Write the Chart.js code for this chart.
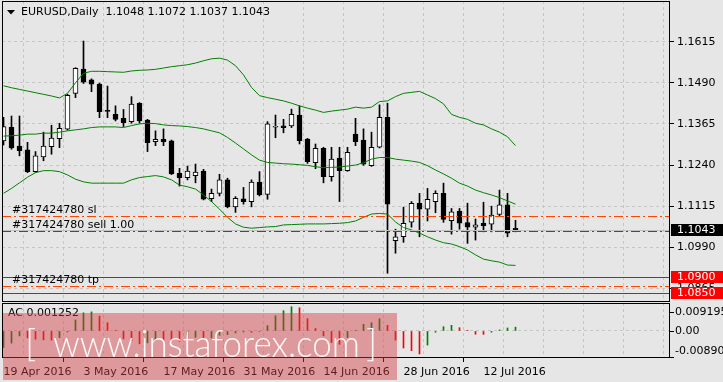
<!DOCTYPE html>
<html>
<head>
<meta charset="utf-8">
<script src="https://cdn.jsdelivr.net/npm/chart.js@4.4.0/dist/chart.umd.min.js"></script>
<style>
  html, body { margin: 0; padding: 0; background: #e6e6e6; }
  #wrap { position: relative; width: 723px; height: 382px; overflow: hidden; background: #e6e6e6; }
  #priceChart { position: absolute; left: 0; top: 0; }
  #acChart { position: absolute; left: 0; top: 302px; }
  #watermark { position: absolute; left: 3px; top: 313px; width: 394px; height: 67px; background: rgba(210, 60, 65, 0.45); pointer-events: none; }
  #watermark span { position: absolute; color: rgba(255, 255, 255, 0.92); font-family: Lato, 'Open Sans', sans-serif; font-weight: 300; font-size: 38px; line-height: 38px; white-space: nowrap; transform-origin: left top; }
</style>
</head>
<body>
<div id="wrap">
  <canvas id="priceChart" width="723" height="302"></canvas>
  <canvas id="acChart" width="723" height="80"></canvas>
  <div id="watermark">
    <span style="left:22px;top:9px">[</span>
    <span id="wmText" style="left:50px;top:10px">www.instaforex.com</span>
    <span style="left:363px;top:9px">]</span>
  </div>
</div>
<script>
// Données (EURUSD, Daily)
const symbol = 'EURUSD,Daily';

const dates = [
  '19 Apr 2016', '20 Apr 2016', '21 Apr 2016', '22 Apr 2016', '25 Apr 2016', '26 Apr 2016', '27 Apr 2016', '28 Apr 2016', '29 Apr 2016',
  '2 May 2016', '3 May 2016', '4 May 2016', '5 May 2016', '6 May 2016', '9 May 2016', '10 May 2016', '11 May 2016', '12 May 2016',
  '13 May 2016', '16 May 2016', '17 May 2016', '18 May 2016', '19 May 2016', '20 May 2016', '23 May 2016', '24 May 2016', '25 May 2016',
  '26 May 2016', '27 May 2016', '30 May 2016', '31 May 2016',
  '1 Jun 2016', '2 Jun 2016', '3 Jun 2016', '6 Jun 2016', '7 Jun 2016', '8 Jun 2016', '9 Jun 2016', '10 Jun 2016', '13 Jun 2016',
  '14 Jun 2016', '15 Jun 2016', '16 Jun 2016', '17 Jun 2016', '20 Jun 2016', '21 Jun 2016', '22 Jun 2016', '23 Jun 2016', '24 Jun 2016',
  '27 Jun 2016', '28 Jun 2016', '29 Jun 2016', '30 Jun 2016',
  '1 Jul 2016', '4 Jul 2016', '5 Jul 2016', '6 Jul 2016', '7 Jul 2016', '8 Jul 2016', '11 Jul 2016', '12 Jul 2016', '13 Jul 2016',
  '14 Jul 2016', '15 Jul 2016', '18 Jul 2016'
];

const opens = [
  1.1313, 1.1355, 1.1298, 1.1286, 1.1220, 1.1265, 1.1296, 1.1320, 1.1349, 1.1458,
  1.1532, 1.1499, 1.1486, 1.1404, 1.1394, 1.1382, 1.1372, 1.1428, 1.1377, 1.1311,
  1.1318, 1.1314, 1.1215, 1.1202, 1.1208, 1.1222, 1.1138, 1.1154, 1.1195, 1.1113,
  1.1137, 1.1129, 1.1188, 1.1151, 1.1355, 1.1359, 1.1359, 1.1392, 1.1319, 1.1247,
  1.1291, 1.1205, 1.1261, 1.1223, 1.1334, 1.1316, 1.1238, 1.1294, 1.1385, 1.1010,
  1.1022, 1.1066, 1.1124, 1.1106, 1.1129, 1.1154, 1.1071, 1.1100, 1.1065, 1.1051,
  1.1063, 1.1060, 1.1090, 1.1119, 1.1048
];
const highs = [
  1.1385, 1.1389, 1.1389, 1.1309, 1.1281, 1.1340, 1.1361, 1.1367, 1.1455, 1.1536,
  1.1617, 1.1502, 1.1489, 1.1480, 1.1420, 1.1409, 1.1448, 1.1430, 1.1379, 1.1344,
  1.1350, 1.1316, 1.1230, 1.1237, 1.1243, 1.1227, 1.1167, 1.1212, 1.1200, 1.1144,
  1.1172, 1.1195, 1.1220, 1.1372, 1.1392, 1.1379, 1.1410, 1.1420, 1.1321, 1.1304,
  1.1294, 1.1294, 1.1294, 1.1294, 1.1382, 1.1350, 1.1340, 1.1423, 1.1428, 1.1045,
  1.1112, 1.1129, 1.1154, 1.1169, 1.1162, 1.1185, 1.1108, 1.1108, 1.1124, 1.1076,
  1.1127, 1.1115, 1.1164, 1.1154, 1.1072
];
const lows = [
  1.1301, 1.1288, 1.1268, 1.1217, 1.1218, 1.1253, 1.1273, 1.1293, 1.1346, 1.1445,
  1.1488, 1.1463, 1.1384, 1.1384, 1.1374, 1.1357, 1.1367, 1.1367, 1.1281, 1.1299,
  1.1299, 1.1211, 1.1176, 1.1195, 1.1186, 1.1134, 1.1129, 1.1146, 1.1110, 1.1096,
  1.1121, 1.1113, 1.1146, 1.1136, 1.1323, 1.1338, 1.1354, 1.1304, 1.1245, 1.1229,
  1.1186, 1.1191, 1.1129, 1.1221, 1.1299, 1.1239, 1.1236, 1.1292, 1.0911, 1.0972,
  1.1005, 1.1051, 1.1022, 1.1070, 1.1095, 1.1066, 1.1030, 1.1045, 1.1002, 1.1012,
  1.1037, 1.1037, 1.1083, 1.1022, 1.1037
];
const closes = [
  1.1357, 1.1292, 1.1284, 1.1220, 1.1268, 1.1298, 1.1322, 1.1352, 1.1452, 1.1534,
  1.1492, 1.1486, 1.1402, 1.1403, 1.1379, 1.1369, 1.1425, 1.1374, 1.1308, 1.1318,
  1.1311, 1.1213, 1.1202, 1.1222, 1.1219, 1.1136, 1.1154, 1.1195, 1.1113, 1.1139,
  1.1129, 1.1188, 1.1149, 1.1365, 1.1356, 1.1354, 1.1394, 1.1314, 1.1250, 1.1291,
  1.1205, 1.1258, 1.1223, 1.1279, 1.1311, 1.1243, 1.1294, 1.1385, 1.1121, 1.1022,
  1.1063, 1.1124, 1.1106, 1.1136, 1.1154, 1.1075, 1.1098, 1.1063, 1.1051, 1.1058,
  1.1056, 1.1088, 1.1119, 1.1033, 1.1043
];

// Bandes de Bollinger
const bbUpper = [
  1.1481, 1.1475, 1.1470, 1.1465, 1.1460, 1.1455, 1.1450, 1.1444, 1.1458, 1.1490,
  1.1519, 1.1525, 1.1525, 1.1524, 1.1523, 1.1522, 1.1526, 1.1528, 1.1529, 1.1531,
  1.1535, 1.1539, 1.1542, 1.1545, 1.1550, 1.1557, 1.1563, 1.1565, 1.1559, 1.1542,
  1.1514, 1.1476, 1.1451, 1.1445, 1.1440, 1.1435, 1.1428, 1.1420, 1.1413, 1.1407,
  1.1400, 1.1404, 1.1407, 1.1410, 1.1416, 1.1413, 1.1416, 1.1433, 1.1435, 1.1448,
  1.1458, 1.1461, 1.1464, 1.1453, 1.1442, 1.1426, 1.1394, 1.1385, 1.1379, 1.1367,
  1.1362, 1.1350, 1.1340, 1.1326, 1.1299
];
const bbMiddle = [
  1.1328, 1.1329, 1.1331, 1.1334, 1.1334, 1.1337, 1.1337, 1.1340, 1.1344, 1.1347,
  1.1350, 1.1354, 1.1356, 1.1356, 1.1356, 1.1354, 1.1360, 1.1365, 1.1367, 1.1366,
  1.1362, 1.1360, 1.1359, 1.1357, 1.1354, 1.1350, 1.1344, 1.1338, 1.1324, 1.1307,
  1.1289, 1.1271, 1.1255, 1.1248, 1.1246, 1.1244, 1.1243, 1.1241, 1.1239, 1.1235,
  1.1232, 1.1233, 1.1234, 1.1237, 1.1240, 1.1247, 1.1258, 1.1263, 1.1263, 1.1258,
  1.1255, 1.1252, 1.1248, 1.1238, 1.1225, 1.1213, 1.1200, 1.1185, 1.1176, 1.1164,
  1.1156, 1.1149, 1.1141, 1.1131, 1.1121
];
const bbLower = [
  1.1154, 1.1169, 1.1186, 1.1203, 1.1217, 1.1223, 1.1223, 1.1220, 1.1210, 1.1197,
  1.1189, 1.1185, 1.1185, 1.1185, 1.1185, 1.1185, 1.1195, 1.1202, 1.1205, 1.1208,
  1.1204, 1.1195, 1.1179, 1.1174, 1.1167, 1.1149, 1.1129, 1.1106, 1.1081, 1.1061,
  1.1051, 1.1048, 1.1050, 1.1052, 1.1053, 1.1058, 1.1059, 1.1060, 1.1061, 1.1061,
  1.1061, 1.1062, 1.1063, 1.1065, 1.1070, 1.1081, 1.1091, 1.1093, 1.1091, 1.1067,
  1.1050, 1.1043, 1.1033, 1.1022, 1.1012, 1.1004, 1.1000, 1.0992, 1.0982, 1.0967,
  1.0954, 1.0949, 1.0945, 1.0936, 1.0935
];

// Accelerator Oscillator
const acValues = [
  -0.00543, -0.00400, -0.00163, -0.00228, -0.00270, -0.00293, -0.00302, -0.00218, -0.00033, 0.00358,
  0.00595, 0.00627, 0.00488, 0.00270, 0.00023, -0.00260, -0.00325, -0.00423, -0.00390, -0.00293,
  -0.00309, -0.00325, -0.00341, -0.00228, -0.00211, -0.00260, -0.00228, -0.00140, -0.00120, -0.00065,
  -0.00033, -0.00042, -0.00016, 0.00172, 0.00497, 0.00666, 0.00796, 0.00764, 0.00406, 0.00081,
  -0.00163, -0.00380, -0.00439, -0.00221, 0.00023, 0.00218, 0.00270, 0.00400, 0.00185, -0.00302,
  -0.00562, -0.00650, -0.00757, -0.00465, -0.00042, 0.00140, 0.00185, 0.00107, 0.00010, -0.00107,
  -0.00114, -0.00042, 0.00033, 0.00098, 0.001252
];

// Graduations et niveaux
const priceTicks = [1.0865, 1.0990, 1.1115, 1.1240, 1.1365, 1.1490, 1.1615];
const acTicks = [-0.0089, 0, 0.009195];
const acTickLabels = ['-0.00890', '0.00', '0.009195'];
const orderLevels = [1.1086, 1.1040, 1.0873];
const orderLabels = ['#317424780 sl', '#317424780 sell 1.00', '#317424780 tp'];
const priceLines = [1.0900, 1.0850];

// Réglages
const GRID = '#c6c6c6';
const X_MIN = -0.1875, X_MAX = 83.3125;
const Y_MIN = 1.08237, Y_MAX = 1.17387;
const ORDER_COLORS = ['#ff4500', '#008000', '#ff4500'];

Chart.defaults.font.family = "'DejaVu Sans', sans-serif";
Chart.defaults.font.size = 11;
Chart.defaults.color = '#000';

function gridTicks(scale) {
  const ticks = [];
  for (let v = 0; v <= scale.max; v += 5) ticks.push({ value: v });
  scale.ticks = ticks;
}

function hline(ctx, area, py, color, dash) {
  const y = Math.round(py) + 0.5;
  ctx.strokeStyle = color;
  ctx.lineWidth = 1;
  ctx.setLineDash(dash);
  ctx.beginPath();
  ctx.moveTo(area.left, y);
  ctx.lineTo(area.right, y);
  ctx.stroke();
}

function frame(ctx, a) {
  ctx.save();
  ctx.strokeStyle = '#000';
  ctx.lineWidth = 1;
  ctx.setLineDash([]);
  ctx.strokeRect(a.left + 0.5, a.top + 0.5, a.right - a.left - 1, a.bottom - a.top - 1);
  ctx.restore();
}

function axisBox(ctx, chart, py, bg, text) {
  const x0 = chart.chartArea.right + 1;
  ctx.fillStyle = bg;
  ctx.fillRect(x0, Math.round(py) - 6, chart.width - x0, 12);
  ctx.fillStyle = '#fff';
  ctx.textBaseline = 'middle';
  ctx.textAlign = 'left';
  ctx.fillText(text, x0 + 6, Math.round(py) + 0.5);
}

const pricePlugin = {
  id: 'pricePlugin',
  afterDatasetsDraw(chart) {
    const { ctx, chartArea: a, scales: { y } } = chart;
    ctx.save();
    ctx.beginPath();
    ctx.rect(a.left, a.top, a.right - a.left, a.bottom - a.top);
    ctx.clip();
    hline(ctx, a, y.getPixelForValue(closes[closes.length - 1]), '#c0c0c0', []);
    priceLines.forEach(v => hline(ctx, a, y.getPixelForValue(v), '#ff0000', []));
    ctx.font = "11px 'DejaVu Sans'";
    ctx.textAlign = 'left';
    ctx.textBaseline = 'bottom';
    orderLevels.forEach((v, i) => {
      const py = y.getPixelForValue(v);
      hline(ctx, a, py, ORDER_COLORS[i], [9, 3, 2, 3]);
      ctx.fillStyle = '#000';
      ctx.fillText(orderLabels[i], a.left + 10, Math.round(py) - 0.5);
    });
    ctx.restore();
  },
  afterDraw(chart) {
    const { ctx, chartArea: a, scales: { y } } = chart;
    frame(ctx, a);
    ctx.save();
    ctx.font = "11px 'DejaVu Sans'";
    // En-tête du graphique
    ctx.fillStyle = '#000';
    ctx.beginPath();
    ctx.moveTo(7, 10); ctx.lineTo(15, 10); ctx.lineTo(11, 14.5); ctx.closePath();
    ctx.fill();
    const last = opens.length - 1;
    const header = symbol + '  ' + [opens[last], highs[last], lows[last], closes[last]].map(v => v.toFixed(4)).join(' ');
    ctx.textBaseline = 'middle';
    ctx.fillText(header, 21, 12.5);
    // Étiquettes de prix sur l'axe
    axisBox(ctx, chart, y.getPixelForValue(closes[last]), '#000', closes[last].toFixed(4));
    priceLines.forEach(v => axisBox(ctx, chart, y.getPixelForValue(v), '#ff0000', v.toFixed(4)));
    ctx.restore();
  }
};

const acPlugin = {
  id: 'acPlugin',
  afterDraw(chart) {
    const { ctx, chartArea: a, scales: { y } } = chart;
    frame(ctx, a);
    ctx.save();
    ctx.font = "11px 'DejaVu Sans'";
    ctx.fillStyle = '#000';
    ctx.textAlign = 'left';
    ctx.textBaseline = 'middle';
    ctx.fillText('AC ' + acValues[acValues.length - 1].toFixed(6), a.left + 6, a.top + 10);
    // Graduations de l'oscillateur
    const pos = [
      [y.getPixelForValue(acTicks[0]) - 1, y.getPixelForValue(acTicks[0]) - 7],
      [y.getPixelForValue(acTicks[1]), y.getPixelForValue(acTicks[1])],
      [y.getPixelForValue(acTicks[2]) + 9, y.getPixelForValue(acTicks[2]) + 9]
    ];
    ctx.strokeStyle = '#000';
    ctx.lineWidth = 1;
    pos.forEach(([tickY, labelY], i) => {
      const ty = Math.round(tickY) + 0.5;
      ctx.beginPath();
      ctx.moveTo(a.right, ty);
      ctx.lineTo(a.right + 4, ty);
      ctx.stroke();
      ctx.fillText(acTickLabels[i], a.right + 5, labelY);
    });
    ctx.restore();
  }
};

const xy = arr => arr.map((v, i) => ({ x: i, y: v }));
const bandStyle = { type: 'line', borderColor: '#008000', borderWidth: 1, pointRadius: 0, tension: 0, order: 0 };

new Chart(document.getElementById('priceChart'), {
  type: 'bar',
  data: {
    datasets: [
      { ...bandStyle, data: xy(bbUpper) },
      { ...bandStyle, data: xy(bbMiddle) },
      { ...bandStyle, data: xy(bbLower) },
      {
        data: opens.map((o, i) => ({ x: i, y: [o, closes[i]] })),
        backgroundColor: c => closes[c.dataIndex] >= opens[c.dataIndex] ? '#ffffff' : '#000000',
        borderColor: '#000',
        borderWidth: 1,
        borderSkipped: false,
        barThickness: 5,
        minBarLength: 1,
        grouped: false,
        order: 1
      },
      {
        data: lows.map((l, i) => ({ x: i, y: [l, highs[i]] })),
        backgroundColor: '#000',
        barThickness: 1,
        grouped: false,
        order: 2
      }
    ]
  },
  options: {
    responsive: false,
    animation: false,
    devicePixelRatio: 1,
    layout: { padding: { left: 2, top: 1, right: 0, bottom: 0 } },
    plugins: { legend: { display: false }, tooltip: { enabled: false } },
    scales: {
      x: {
        type: 'linear', min: X_MIN, max: X_MAX, offset: false,
        afterBuildTicks: gridTicks,
        afterFit: s => { s.height = 0; s.paddingLeft = 0; s.paddingRight = 0; },
        ticks: { display: false },
        grid: { color: GRID, drawTicks: false },
        border: { display: false, dash: [3, 3] }
      },
      y: {
        position: 'right', min: Y_MIN, max: Y_MAX,
        afterBuildTicks: s => { s.ticks = priceTicks.map(v => ({ value: v })); },
        afterFit: s => { s.width = 53; s.paddingTop = 0; s.paddingBottom = 0; },
        ticks: { callback: v => v.toFixed(4), padding: 3 },
        grid: { color: GRID, tickColor: '#000', tickLength: 4, tickBorderDash: [] },
        border: { display: false, dash: [3, 3] }
      }
    }
  },
  plugins: [pricePlugin]
});

new Chart(document.getElementById('acChart'), {
  type: 'bar',
  data: {
    datasets: [{
      data: xy(acValues),
      backgroundColor: c => (c.dataIndex === 0 || acValues[c.dataIndex] > acValues[c.dataIndex - 1]) ? '#008000' : '#ff0000',
      barThickness: 1,
      grouped: false
    }]
  },
  options: {
    responsive: false,
    animation: false,
    devicePixelRatio: 1,
    layout: { padding: { left: 2, top: 1, right: 0, bottom: 0 } },
    plugins: { legend: { display: false }, tooltip: { enabled: false } },
    scales: {
      x: {
        type: 'linear', min: X_MIN, max: X_MAX, offset: false,
        afterBuildTicks: gridTicks,
        afterFit: s => { s.height = 24; s.paddingLeft = 0; s.paddingRight = 0; },
        ticks: {
          autoSkip: false, maxRotation: 0, minRotation: 0, align: 'start', padding: 4,
          callback: v => (v % 10 === 0 && v < dates.length) ? dates[v] : ''
        },
        grid: {
          color: GRID, tickLength: 4, tickBorderDash: [],
          tickColor: c => (c.tick && c.tick.value % 10 === 0 && c.tick.value < dates.length) ? '#000' : 'rgba(0,0,0,0)'
        },
        border: { display: false, dash: [3, 3] }
      },
      y: {
        position: 'right', min: acTicks[0], max: acTicks[2],
        afterBuildTicks: s => { s.ticks = [{ value: 0 }]; },
        afterFit: s => { s.width = 53; s.paddingTop = 0; s.paddingBottom = 0; },
        ticks: { display: false },
        grid: { color: GRID, drawTicks: false },
        border: { display: false, dash: [3, 3] }
      }
    }
  },
  plugins: [acPlugin]
});

// Ajuster la largeur du filigrane
const wm = document.getElementById('wmText');
const wmWidth = wm.getBoundingClientRect().width;
if (wmWidth > 0) wm.style.transform = `scaleX(${307 / wmWidth})`;
</script>
</body>
</html>
